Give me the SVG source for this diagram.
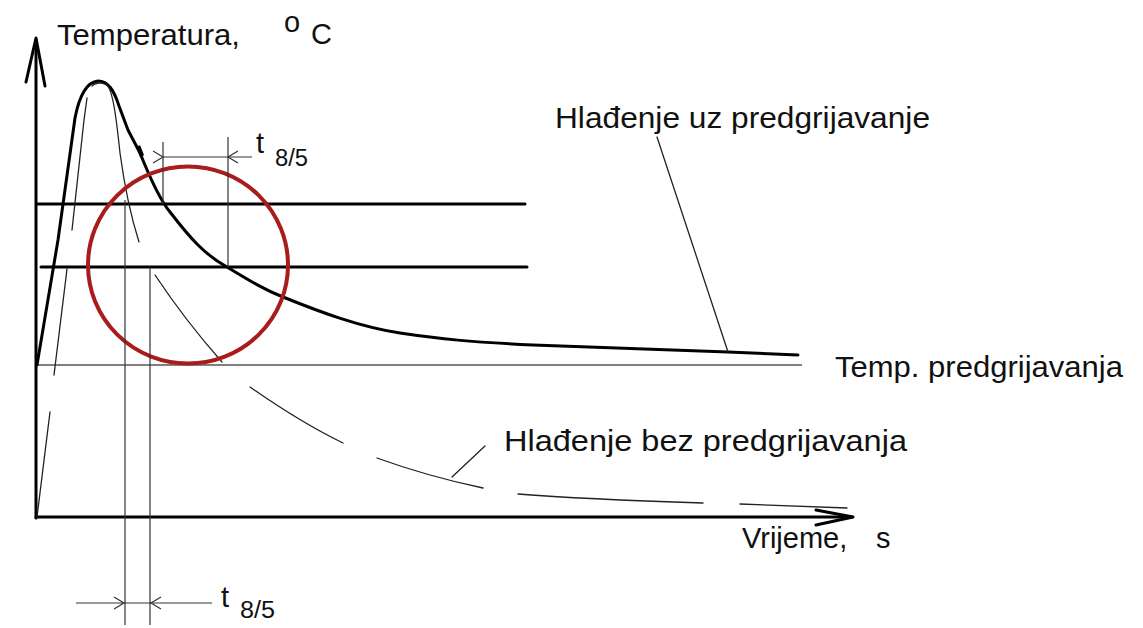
<svg xmlns="http://www.w3.org/2000/svg" width="1143" height="628" viewBox="0 0 1143 628">
<style>
text{font-family:"Liberation Sans",Arial,sans-serif;fill:#111}
.big{font-size:29px}
.sub{font-size:23px}
.thick{stroke:#000;stroke-width:3;fill:none;stroke-linecap:round;stroke-linejoin:round}
.thin{stroke:#222;stroke-width:1.3;fill:none;stroke-linecap:round}
.dim{stroke:#333;stroke-width:1.2;fill:none}
</style>
<rect width="1143" height="628" fill="#fff"/>
<g id="axes">
<path class="thick" d="M36,518 V40"/>
<path class="thick" d="M26,82 L36,38 L45,86"/>
<path class="thick" d="M36,517 H852"/>
<path class="thick" stroke-width="2.5" d="M816,510 L853,517 L816,525"/>
</g>
<g id="levels">
<path class="thick" stroke-width="2.6" d="M38,204 H525"/>
<path class="thick" stroke-width="2.6" d="M41,267 H527"/>
<path stroke="#555" stroke-width="1.5" fill="none" d="M36,365 H802"/>
</g>
<g id="curve-preheat">
<path class="thick" d="M37,365 L58,240 L75,118 C80,92 88,82 98,81 C108,81 114,90 119,106 L128,130 L140,153 C150,178 160,200 170,212 C190,238 205,255 227,267 C250,281 265,290 283,297 C320,312 360,327 400,333 C440,339 470,342 533,345 L728,352 L798,355"/>
<path stroke="#000" stroke-width="4.5" d="M138,146 L142,156"/>
</g>
<g id="curve-nopreheat">
<path class="thin" d="M37,517 L50,412"/>
<path class="thin" d="M54,375 L67,269"/>
<path class="thin" d="M72,230 L84,120 L87,98"/>
<path class="thin" d="M92,86 C96,82 104,82 108,86 C113,94 116,115 120,153 C125,190 132,220 139,242"/>
<path class="thin" d="M155,275 C175,305 198,335 222,362"/>
<path class="thin" d="M250,387 C280,408 310,427 343,443"/>
<path class="thin" d="M377,458 C410,470 445,480 483,488"/>
<path class="thin" d="M518,494 C580,499 640,501 703,503"/>
<path class="thin" d="M740,504 L847,508"/>
</g>
<g id="circle">
<ellipse cx="188" cy="265" rx="100" ry="98.5" fill="none" stroke="#a81c1c" stroke-width="4"/>
</g>
<g id="dimension-top">
<path class="dim" d="M163,142 V204"/>
<path class="dim" d="M228,137 V267"/>
<path class="dim" d="M163,157 H252"/>
<path class="dim" d="M153,151 L163,157 L153,163"/>
<path class="dim" d="M238,151 L228,157 L238,163"/>
<text class="big" x="256" y="153">t</text>
<text class="sub" x="275" y="166" textLength="33" lengthAdjust="spacingAndGlyphs">8/5</text>
</g>
<g id="dimension-bottom">
<path class="dim" d="M125,200 V625"/>
<path class="dim" d="M150,267 V625"/>
<path class="dim" d="M76,603 H212"/>
<path class="dim" d="M114,597 L124,603 L114,609"/>
<path class="dim" d="M161,597 L151,603 L161,609"/>
<text class="big" x="221" y="607">t</text>
<text class="sub" x="240" y="618" textLength="35" lengthAdjust="spacingAndGlyphs">8/5</text>
</g>
<g id="labels">
<text class="big" x="57" y="45" textLength="183" lengthAdjust="spacingAndGlyphs">Temperatura,</text>
<text class="big" x="284" y="32">o</text>
<text class="big" x="311" y="44">C</text>
<text class="big" x="555" y="128" textLength="375" lengthAdjust="spacingAndGlyphs">Hlađenje uz predgrijavanje</text>
<path class="thin" d="M657,137 L728,352"/>
<text class="big" x="835" y="377" textLength="288" lengthAdjust="spacingAndGlyphs">Temp. predgrijavanja</text>
<text class="big" x="504" y="451" textLength="403" lengthAdjust="spacingAndGlyphs">Hlađenje bez predgrijavanja</text>
<path class="thin" d="M452,477 L485,446"/>
<text class="big" x="742" y="548">Vrijeme,</text>
<text class="big" x="876" y="548">s</text>
</g>
</svg>
